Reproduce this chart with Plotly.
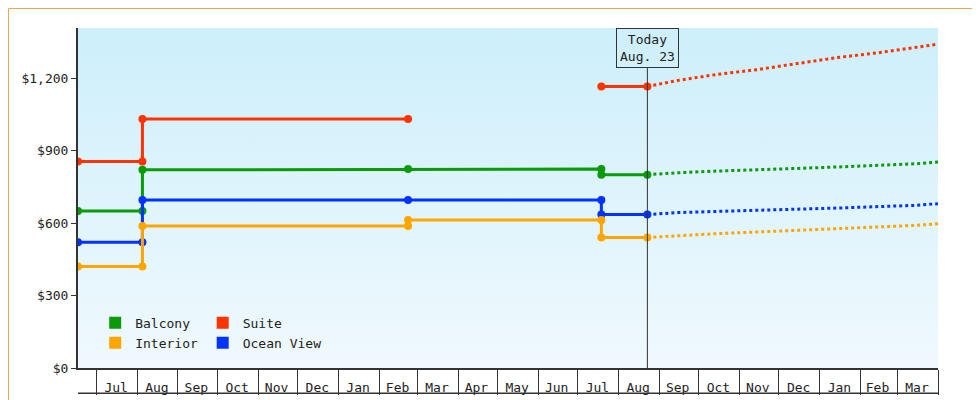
import plotly.graph_objects as go

# Historical prices (date, value) per cabin type
balcony_x = ["2023-06-17","2023-08-05","2023-08-05","2024-02-23","2024-07-19","2024-07-19","2024-08-23"]
balcony_y = [650,650,820,823,823,800,800]
suite_x1 = ["2023-06-17","2023-08-05","2023-08-05","2024-02-23"]
suite_y1 = [855,855,1030,1030]
suite_x2 = ["2024-07-19","2024-08-23"]
suite_y2 = [1165,1165]
ocean_x = ["2023-06-17","2023-08-05","2023-08-05","2024-02-23","2024-07-19","2024-07-19","2024-08-23"]
ocean_y = [520,520,695,695,695,635,635]
interior_x = ["2023-06-17","2023-08-05","2023-08-05","2024-02-23","2024-02-23","2024-07-19","2024-07-19","2024-08-23"]
interior_y = [420,420,588,588,612,612,540,540]

# Forecasts
fc_x = ["2024-08-23","2024-09-15","2024-10-15","2024-11-15","2024-12-15","2025-01-15","2025-02-15","2025-03-15","2025-04-01"]
fc_suite = [1165,1190,1215,1235,1260,1285,1305,1325,1340]
fc_balcony = [800,808,815,822,826,832,838,845,852]
fc_ocean = [635,643,648,652,657,662,668,673,680]
fc_interior = [540,548,556,563,570,577,583,590,597]

month_vals = ["2023-07-16","2023-08-16","2023-09-15","2023-10-16","2023-11-15","2023-12-16",
              "2024-01-16","2024-02-15","2024-03-16","2024-04-15","2024-05-16","2024-06-15",
              "2024-07-16","2024-08-16","2024-09-15","2024-10-16","2024-11-15","2024-12-16",
              "2025-01-16","2025-02-14","2025-03-16"]
month_text = ["Jul","Aug","Sep","Oct","Nov","Dec","Jan","Feb","Mar","Apr","May","Jun",
              "Jul","Aug","Sep","Oct","Nov","Dec","Jan","Feb","Mar"]
y_vals = [0,300,600,900,1200]
y_text = ["$0","$300","$600","$900","$1,200"]

today = "2024-08-23"
x_range = ["2023-06-17","2025-04-01"]
y_range = [0,1407]

GREEN, RED, ORANGE, BLUE = "#0a9a0a", "#ff3300", "#ffa500", "#0033ff"
FONT = "DejaVu Sans Mono"

fig = go.Figure()
fig.add_trace(go.Scatter(x=[x_range[0],x_range[1],x_range[1],x_range[0],x_range[0]],
    y=[y_range[0],y_range[0],y_range[1],y_range[1],y_range[0]], fill="toself", mode="none",
    fillgradient=dict(type="vertical", colorscale=[[0,"#f0f9fd"],[1,"#cdeffb"]]),
    hoverinfo="skip", showlegend=False))

def hist(x, y, c):
    fig.add_trace(go.Scatter(x=x, y=y, mode="lines+markers", line=dict(color=c, width=3),
        marker=dict(color=c, size=8), showlegend=False))
def fc(y, c):
    fig.add_trace(go.Scatter(x=fc_x, y=y, mode="lines", line=dict(color=c, width=3, dash="dot"),
        showlegend=False))

hist(balcony_x, balcony_y, GREEN)
hist(suite_x1, suite_y1, RED)
hist(suite_x2, suite_y2, RED)
hist(ocean_x, ocean_y, BLUE)
hist(interior_x, interior_y, ORANGE)
fc(fc_suite, RED); fc(fc_balcony, GREEN); fc(fc_ocean, BLUE); fc(fc_interior, ORANGE)

for name, c, lg in [("Balcony",GREEN,"legend"),("Interior",ORANGE,"legend"),
                    ("Suite",RED,"legend2"),("Ocean View",BLUE,"legend2")]:
    fig.add_trace(go.Scatter(x=[None], y=[None], mode="markers", name=name,
        marker=dict(symbol="square", size=12, color=c), legend=lg))

fig.add_shape(type="line", x0=today, x1=today, yref="paper", y0=0, y1=0.882,
              line=dict(color="#333", width=1))
fig.add_annotation(x=today, yref="paper", y=0.882, yanchor="bottom", text="Today<br>Aug. 23",
    showarrow=False, bordercolor="#333", borderwidth=1, bgcolor="rgba(0,0,0,0)",
    font=dict(family=FONT, size=13, color="#222"), borderpad=3)
fig.add_shape(type="line", xref="paper", yref="paper", x0=0, x1=1, y0=-0.074, y1=-0.074,
              line=dict(color="#333", width=1.5))
fig.add_shape(type="rect", xref="paper", yref="paper", x0=-69.5/860, x1=909.5/860,
              y0=-39.5/340, y1=1+19.5/340, line=dict(color="#e8a94f", width=1))

fig.update_layout(
    width=980, height=400, margin=dict(l=70, r=50, t=20, b=40, autoexpand=False),
    paper_bgcolor="white", plot_bgcolor="white",
    font=dict(family=FONT, size=13, color="#222"),
    legend=dict(x=0.02, y=0.03, xanchor="left", yanchor="bottom", bgcolor="rgba(0,0,0,0)",
                tracegroupgap=0, font=dict(size=13)),
    legend2=dict(x=0.145, y=0.03, xanchor="left", yanchor="bottom", bgcolor="rgba(0,0,0,0)",
                 tracegroupgap=0, font=dict(size=13)),
    xaxis=dict(range=x_range, tickvals=month_vals, ticktext=month_text, ticks="",
               ticklabelstandoff=6, automargin=False,
               minor=dict(tick0="2023-07-01", dtick="M1", ticks="outside", ticklen=25,
                          tickcolor="#333", showgrid=False),
               showgrid=False, showline=True, linecolor="#333", linewidth=2, zeroline=False),
    yaxis=dict(range=y_range, tickvals=y_vals, ticktext=y_text, automargin=False,
               ticks="outside", ticklen=5, tickcolor="#333", showgrid=False, showline=True,
               linecolor="#333", linewidth=2, zeroline=False),
)
fig.write_html("out.html")
